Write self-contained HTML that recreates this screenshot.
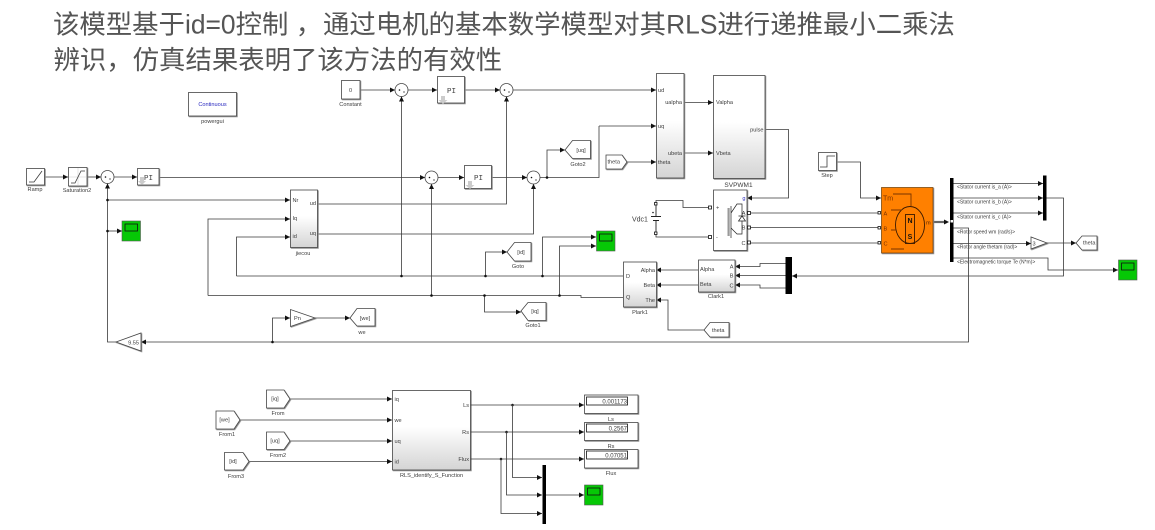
<!DOCTYPE html>
<html><head><meta charset="utf-8">
<style>
html,body{margin:0;padding:0;background:#fff;width:1155px;height:530px;overflow:hidden}
svg{display:block}
.t{font-family:"Liberation Sans","Noto Sans CJK SC",sans-serif;font-size:26.4px;fill:#555}
text{font-family:"Liberation Sans",sans-serif;font-size:5.6px;fill:#3c3c3c}
.m{text-anchor:middle}
.e{text-anchor:end}
.l{fill:none;stroke:#3a3a3a;stroke-width:.8}
.a{marker-end:url(#ar)}
.b{fill:#fff;stroke:#444;stroke-width:.8;filter:url(#sh)}
.g{fill:url(#gr);stroke:#444;stroke-width:.8;filter:url(#sh)}
.j{fill:#111}
.bar{fill:#000}
.pi{font-family:"Liberation Mono",monospace;font-size:7.5px}
</style></head><body>
<svg width="1155" height="530" viewBox="0 0 1155 530" xmlns="http://www.w3.org/2000/svg">
<defs>
<linearGradient id="gr" x1="0" y1="0" x2="0" y2="1"><stop offset="0" stop-color="#fff"/><stop offset=".45" stop-color="#fff"/><stop offset="1" stop-color="#d4d4d4"/></linearGradient>
<filter id="sh" x="-10%" y="-10%" width="125%" height="125%"><feDropShadow dx=".8" dy=".8" stdDeviation=".3" flood-color="#888"/></filter>
<marker id="ar" viewBox="0 0 6 6" refX="6" refY="3" markerWidth="5" markerHeight="5" markerUnits="userSpaceOnUse" orient="auto"><path d="M0 0L6 3L0 6z" fill="#111"/></marker>
<g id="scope"><rect x="0" y="0" width="18.5" height="20" fill="#06c806" stroke="#555" stroke-width=".6"/><rect x="3" y="3" width="12.5" height="7" fill="#06c806" stroke="#111" stroke-width=".8"/></g>
</defs>

<text class="t" x="53" y="33.5">该模型基于id=0控制 ，<tspan x="323">通过电机的基本数学模型对其RLS进行递推最小二乘法</tspan></text>
<text class="t" x="53.500" y="69">辨识，仿真结果表明了该方法的有效性</text>

<!-- powergui -->
<rect class="b" x="188.500" y="92.500" width="48" height="23.500"/>
<text class="m" x="212.500" y="106" style="fill:#2a2ac0">Continuous</text>
<text class="m" x="212.500" y="123">powergui</text>

<!-- wires -->
<path class="l a" d="M45 177H68"/>
<path class="l a" d="M87 177H101"/>
<path class="l a" d="M114 177H137"/>
<path class="l a" d="M159 177.500H425"/>
<path class="l a" d="M438 177.500H464"/>
<path class="l a" d="M492 177.500H527"/>
<path class="l" d="M540 177.500H599V126"/>
<path class="l a" d="M599 126H656"/>
<path class="l a" d="M547 177.500V150H565"/>
<path class="l a" d="M360 90H395"/>
<path class="l a" d="M408 90H437"/>
<path class="l a" d="M464.500 90H500"/>
<path class="l a" d="M513 90H656"/>
<path class="l a" d="M401.500 276V96.500"/>
<path class="l a" d="M431.500 295V184"/>
<path class="l a" d="M317 204H506.500V96.500"/>
<path class="l a" d="M317 234H533.500V184"/>
<path class="l a" d="M953 228H968.500V342H141"/>
<path class="l a" d="M116 342H107.500V183.500"/>
<path class="l a" d="M107.500 200H290"/>
<path class="l a" d="M107.500 231H122"/>
<path class="l a" d="M272.500 342V318H290"/>
<path class="l a" d="M315 318H350"/>
<path class="l a" d="M208 295.500V219H290"/>
<path class="l a" d="M236.500 276V237H290"/>
<path class="l" d="M236.500 276H623"/>
<path class="l" d="M208 295.500H581V297.500H623"/>
<path class="l a" d="M485.500 276V252H507"/>
<path class="l a" d="M484.500 295.500V312H521"/>
<path class="l a" d="M542.500 276V237H596"/>
<path class="l a" d="M559.500 295.500V246H596"/>
<path class="l a" d="M627 162H656"/>
<path class="l a" d="M684 102.500H713"/>
<path class="l a" d="M684 153H713"/>
<path class="l a" d="M765 129.500H788.500V198H747"/>
<path class="l a" d="M698 270H656"/>
<path class="l a" d="M698 285H656"/>
<path class="l a" d="M704 330H668V300H656"/>
<path class="l" d="M656 204V200.500H683V207.500H710"/>
<path class="l" d="M656 233V237H710"/>
<path class="l" d="M747 213H879"/>
<path class="l" d="M747 227.500H879"/>
<path class="l" d="M747 243H879"/>
<path class="l a" d="M836 162H860.500V198H881"/>
<path d="M933 222H947" stroke="#666" stroke-width="2.200" fill="none"/>
<path d="M944 219.500L949 222L944 224.500z" fill="#111"/>
<path class="l a" d="M953 183.500H1043"/>
<path class="l a" d="M953 198H1043"/>
<path class="l a" d="M953 213H1043"/>
<path class="l a" d="M1046 198H1063.500V276H792"/>
<path class="l a" d="M953 243.500H1031"/>
<path class="l a" d="M1047 243H1076"/>
<path class="l a" d="M953 258H1048V270H1118"/>
<path class="l a" d="M785.500 263.500H760V266.500H735"/>
<path class="l a" d="M785.500 275.500H735"/>
<path class="l a" d="M785.500 288H760V285H735"/>

<!-- junctions -->
<g class="j"><circle cx="401.500" cy="276" r="1.300"/><circle cx="431.500" cy="295.500" r="1.300"/><circle cx="485.500" cy="276" r="1.300"/><circle cx="484.500" cy="295.500" r="1.300"/><circle cx="542.500" cy="276" r="1.300"/><circle cx="559.500" cy="295.500" r="1.300"/><circle cx="547" cy="177.500" r="1.300"/><circle cx="107.500" cy="200" r="1.300"/><circle cx="107.500" cy="231" r="1.300"/><circle cx="272.500" cy="342" r="1.300"/><circle cx="512.500" cy="405" r="1.300"/><circle cx="506.500" cy="432" r="1.300"/><circle cx="501" cy="459" r="1.300"/></g>

<!-- ramp and saturation -->
<rect class="b" x="26.500" y="168.500" width="18" height="16.500"/>
<path class="l" d="M29 182H34L42 171"/>
<text class="m" x="35" y="191">Ramp</text>
<rect class="b" x="68.500" y="167.500" width="18.500" height="18.500"/>
<path d="M78 168V186M69 177H87" stroke="#bbb" stroke-width=".4"/>
<path class="l" d="M71 183H75L81 171H85"/>
<text class="m" x="77" y="192">Saturation2</text>

<!-- sums -->
<g fill="#fff" stroke="#444" stroke-width=".8"><circle cx="107.500" cy="177" r="6.500"/><circle cx="401.500" cy="90" r="6.500"/><circle cx="506.500" cy="90" r="6.500"/><circle cx="431.500" cy="177.500" r="6.500"/><circle cx="533.500" cy="177.500" r="6.500"/></g>
<g class="j"><circle cx="105.500" cy="177" r=".8"/><circle cx="399.500" cy="90" r=".8"/><circle cx="504.500" cy="90" r=".8"/><circle cx="429.500" cy="177.500" r=".8"/><circle cx="531.500" cy="177.500" r=".8"/></g>
<path d="M109 179H111M403 92H405M508 92H510M433 180H435M535 180H537" stroke="#333" stroke-width=".7"/>

<!-- PI -->
<rect class="b" x="137.500" y="168.500" width="21.500" height="16.500"/>
<path d="M140 177H144V181H146L142 185L138 181H140z" fill="#ccc"/>
<text class="pi" x="144" y="180">PI</text>
<rect class="b" x="437.500" y="76.500" width="27" height="26.500"/>
<path d="M441 96H445V100H447.500L443 104L438.500 100H441z" fill="#ccc"/>
<text class="pi" x="447" y="93">PI</text>
<rect class="b" x="464.500" y="165.500" width="27" height="23"/>
<path d="M468 181H472V185H474.500L470 189L465.500 185H468z" fill="#ccc"/>
<text class="pi" x="474" y="180">PI</text>

<!-- constant -->
<rect class="b" x="341.500" y="80.500" width="18.500" height="18.500"/>
<text class="m" x="350.500" y="92">0</text>
<text class="m" x="350.500" y="106">Constant</text>

<!-- jiecou -->
<rect class="g" x="290.500" y="190" width="27" height="57.500"/>
<text x="292.500" y="202">Nr</text><text x="292.500" y="220">Iq</text><text x="292.500" y="238">id</text>
<text class="e" x="316" y="205">ud</text><text class="e" x="316" y="235">uq</text>
<text class="m" x="303" y="255">jiecou</text>

<!-- scopes -->
<use href="#scope" x="122" y="221"/>
<use href="#scope" x="596.500" y="231"/>
<use href="#scope" x="1118.500" y="260"/>
<use href="#scope" x="584.500" y="485"/>

<!-- gains -->
<path class="b" d="M141 333V351L116 342z"/>
<text class="e" x="139" y="344.500">9.55</text>
<path class="b" d="M290.500 309.500V326.500L315 318z"/>
<text x="294" y="320">Pn</text>

<!-- gotos -->
<path class="b" d="M350 318L357 308.500H375V326H357z"/>
<text class="m" x="365" y="320">[we]</text>
<text class="m" x="362" y="334">we</text>
<path class="b" d="M565 150L572.500 140.500H590.500V158.500H572.500z"/>
<text class="m" x="581" y="152">[uq]</text>
<text class="m" x="578" y="166">Goto2</text>
<path class="b" d="M507 252L514.500 242.500H531V261H514.500z"/>
<text class="m" x="521" y="254">[id]</text>
<text class="m" x="518" y="268">Goto</text>
<path class="b" d="M521 311L528 302.500H546V320.500H528z"/>
<text class="m" x="535" y="313">[iq]</text>
<text class="m" x="533" y="327">Goto1</text>
<path class="b" d="M606 155H622L627 162L622 169H606z"/>
<text x="607.500" y="163.500">theta</text>
<path class="b" d="M704 330L710 322.500H729V337H710z"/>
<text x="712" y="332">theta</text>
<path class="b" d="M1076 243L1082 236H1097V250H1082z"/>
<text x="1083" y="244.500">theta</text>

<!-- transform -->
<rect class="g" x="656.500" y="73.500" width="27.500" height="104.500"/>
<text x="658" y="92">ud</text><text x="658" y="128">uq</text><text x="658" y="164">theta</text>
<text class="e" x="682" y="104">ualpha</text><text class="e" x="682" y="155">ubeta</text>

<!-- SVPWM -->
<rect class="g" x="713.500" y="75.500" width="51.500" height="103"/>
<text x="716" y="104">Valpha</text><text x="716" y="155">Vbeta</text>
<text class="e" x="763.500" y="131.500">pulse</text>
<text class="m" x="738.500" y="187" style="font-size:6.500px">SVPWM1</text>

<!-- Vdc -->
<text x="632" y="221.500" style="font-size:7px;font-family:'Liberation Sans',sans-serif">Vdc1</text>
<rect x="654.500" y="202.500" width="2.500" height="2.500" fill="#fff" stroke="#111" stroke-width=".8"/>
<rect x="654.500" y="232" width="2.500" height="2.500" fill="#fff" stroke="#111" stroke-width=".8"/>
<path d="M656 205V216M651 216.500H661M653 220.500H659M656 220.500V232" stroke="#222" stroke-width=".9" fill="none"/>
<circle cx="653" cy="212.500" r=".8" fill="#111"/>

<!-- inverter -->
<rect class="b" x="713.500" y="190" width="33.500" height="60.500"/>
<rect x="708.500" y="206" width="3" height="3" fill="#fff" stroke="#111" stroke-width=".8"/>
<rect x="708.500" y="235.500" width="3" height="3" fill="#fff" stroke="#111" stroke-width=".8"/>
<rect x="747.500" y="211.500" width="3" height="3" fill="#fff" stroke="#111" stroke-width=".8"/>
<rect x="747.500" y="226" width="3" height="3" fill="#fff" stroke="#111" stroke-width=".8"/>
<rect x="747.500" y="241" width="3" height="3" fill="#fff" stroke="#111" stroke-width=".8"/>
<text x="716" y="209.500">+</text><text x="716" y="238.500">-</text>
<text class="e" x="745.500" y="200" style="fill:#3030c0">g</text>
<text class="e" x="745.500" y="215">A</text><text class="e" x="745.500" y="229.500">B</text><text class="e" x="745.500" y="245">C</text>
<rect x="727.500" y="208" width="2.200" height="28" fill="#999"/>
<path d="M731 206V238M731 213L737 204H742V234H737L731 228" fill="none" stroke="#222" stroke-width=".7"/>
<path d="M738.500 221H745.500L742 216zM738.500 216H745.500" fill="#fff" stroke="#222" stroke-width=".7"/>

<!-- Plark / Clark -->
<rect class="g" x="623.500" y="262" width="33" height="45"/>
<text x="626" y="278">D</text><text x="626" y="299">Q</text>
<text class="e" x="655" y="272">Alpha</text><text class="e" x="655" y="287">Beta</text><text class="e" x="655" y="302">The</text>
<text class="m" x="640" y="314">Plark1</text>
<rect class="g" x="698.500" y="260" width="36.500" height="32"/>
<text x="700" y="271">Alpha</text><text x="700" y="286">Beta</text>
<text class="e" x="733.500" y="268.500">A</text><text class="e" x="733.500" y="277.500">B</text><text class="e" x="733.500" y="287.500">C</text>
<text class="m" x="716" y="298">Clark1</text>
<rect class="bar" x="785.500" y="257" width="6.500" height="37"/>

<!-- step -->
<rect class="b" x="818.500" y="152.500" width="18" height="18"/>
<path class="l" d="M820 167H827V156H835"/>
<text class="m" x="827" y="177">Step</text>

<!-- motor -->
<rect x="881.500" y="187.500" width="51.500" height="65.500" fill="#ff8000" stroke="#7a4a10" stroke-width=".8" filter="url(#sh)"/>
<rect x="878" y="211.500" width="2.500" height="2.500" fill="#fff" stroke="#111" stroke-width=".8"/>
<rect x="878" y="226.500" width="2.500" height="2.500" fill="#fff" stroke="#111" stroke-width=".8"/>
<rect x="878" y="241.500" width="2.500" height="2.500" fill="#fff" stroke="#111" stroke-width=".8"/>
<ellipse cx="910" cy="225" rx="14.500" ry="18.500" fill="none" stroke="#3c1a00" stroke-width=".9"/>
<rect x="905.500" y="214.500" width="9" height="29" fill="none" stroke="#3c1a00" stroke-width=".9"/>
<path d="M893 194H911V206M891 210H902M891 230H896M891 249H904" fill="none" stroke="#7a3500" stroke-width=".9"/>
<text x="883" y="200.500" style="font-size:7px;fill:#7a3000">Tm</text>
<text x="883.500" y="215.500" style="fill:#7a3000">A</text>
<text x="883.500" y="230.500" style="fill:#7a3000">B</text>
<text x="883.500" y="245.500" style="fill:#7a3000">C</text>
<text x="926" y="224.500" style="fill:#5a2500">m</text>
<text class="m" x="910" y="223" style="font-size:7px;font-weight:bold;fill:#111">N</text>
<text class="m" x="910" y="239" style="font-size:7px;font-weight:bold;fill:#111">S</text>

<!-- bus -->
<rect class="bar" x="950" y="178" width="3.500" height="84"/>
<rect x="950.500" y="220" width="2.500" height="2.500" fill="#fff"/>
<rect class="bar" x="1043" y="175.500" width="3.500" height="45"/>
<text x="957" y="188.500" style="font-size:5px">&lt;Stator current is_a (A)&gt;</text>
<text x="957" y="203.500" style="font-size:5px">&lt;Stator current is_b (A)&gt;</text>
<text x="957" y="218.500" style="font-size:5px">&lt;Stator current is_c (A)&gt;</text>
<text x="957" y="233.500" style="font-size:5px">&lt;Rotor speed wm (rad/s)&gt;</text>
<text x="957" y="248.500" style="font-size:5px">&lt;Rotor angle thetam (rad)&gt;</text>
<text x="957" y="263.500" style="font-size:5px">&lt;Electromagnetic torque Te (N*m)&gt;</text>
<path class="b" d="M1031 237V249L1047 243z"/>
<text x="1032.500" y="245.500">3</text>

<!-- bottom -->
<rect class="g" x="392.500" y="390.500" width="78" height="79.500"/>
<text x="394.500" y="401">iq</text><text x="394.500" y="422">we</text><text x="394.500" y="443">uq</text><text x="394.500" y="463.500">id</text>
<text class="e" x="469" y="407">Ls</text><text class="e" x="469" y="434">Rs</text><text class="e" x="469" y="461">Flux</text>
<text class="m" x="431.500" y="477">RLS_identify_S_Function</text>

<path class="l a" d="M290 399H392"/>
<path class="l a" d="M240 420H392"/>
<path class="l a" d="M290 441H392"/>
<path class="l a" d="M249 461.500H392"/>
<path class="l a" d="M470.500 405H584"/>
<path class="l a" d="M470.500 432H584"/>
<path class="l a" d="M470.500 459H584"/>
<path class="l a" d="M512.500 405V477.500H542"/>
<path class="l a" d="M506.500 432V495H542"/>
<path class="l a" d="M501 459V513.500H542"/>
<path class="l a" d="M546 495H584"/>
<rect class="bar" x="542.500" y="465" width="3.500" height="59"/>

<path class="b" d="M266.500 390H284L290 399L284 408H266.500z"/>
<text class="m" x="275" y="400.500">[iq]</text>
<text class="m" x="278" y="415">From</text>
<path class="b" d="M216 411H234L240 420L234 429H216z"/>
<text class="m" x="224.500" y="421.500">[we]</text>
<text class="m" x="227" y="436">From1</text>
<path class="b" d="M266.500 432H284L290 441L284 449.500H266.500z"/>
<text class="m" x="275" y="442.500">[uq]</text>
<text class="m" x="278" y="457">From2</text>
<path class="b" d="M224.500 452.500H243L249 461.500L243 470H224.500z"/>
<text class="m" x="233" y="463">[id]</text>
<text class="m" x="236" y="478">From3</text>

<rect class="b" x="584.500" y="395" width="53.500" height="18.500"/>
<rect x="586.500" y="397" width="41" height="8" fill="#fff" stroke="#111" stroke-width=".8"/>
<text class="e" x="627" y="403.500" style="font-size:6px">0.001173</text>
<text class="m" x="611" y="421">Ls</text>
<rect class="b" x="584.500" y="422.500" width="53.500" height="18"/>
<rect x="586.500" y="424" width="41" height="8" fill="#fff" stroke="#111" stroke-width=".8"/>
<text class="e" x="627" y="430.500" style="font-size:6px">0.2567</text>
<text class="m" x="611" y="448">Rs</text>
<rect class="b" x="584.500" y="449.500" width="53.500" height="18.500"/>
<rect x="586.500" y="451" width="41" height="8" fill="#fff" stroke="#111" stroke-width=".8"/>
<text class="e" x="627" y="457.500" style="font-size:6px">0.07051</text>
<text class="m" x="611" y="475">Flux</text>
</svg>
</body></html>
